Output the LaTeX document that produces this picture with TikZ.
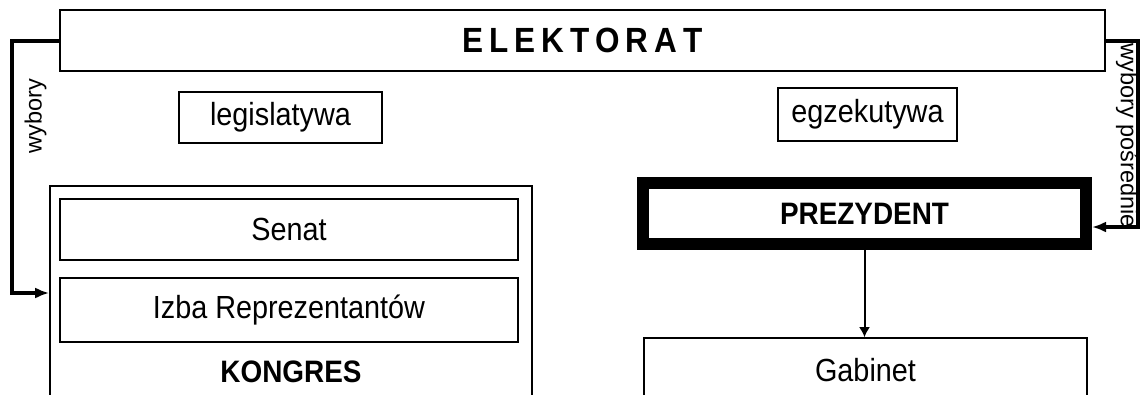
\documentclass[tikz,border=0pt]{standalone}
\usepackage{fontspec}
\setmainfont[FakeStretch=0.9]{Liberation Sans}
\newfontfamily\plainfont{Liberation Sans}
\usetikzlibrary{arrows.meta}
\tikzset{box/.style = {draw, line width=1.6pt, inner sep=0, font=\fontsize{32}{36}\selectfont}}
\tikzset{boldbox/.style = {box, font=\bfseries\fontsize{31}{35}\selectfont}}
\tikzset{vote/.style = {line width=4pt, -{Latex[length=14pt, width=11pt]}}}
\tikzset{votelabel/.style = {inner sep=0, font=\plainfont\fontsize{23.5}{26}\selectfont}}

\begin{document}
\begin{tikzpicture}[x=1pt, y=-1pt]
      \useasboundingbox (0, 0) rectangle (1140, 394);
      \clip (0, 0) rectangle (1140, 394);
      \node [box, minimum width=1045pt, minimum height=61pt] (elektorat) at (582.5, 40.5)
        {\bfseries\fontsize{35}{38}\selectfont\spaceskip=6pt E L E K T O R A T\hspace{12pt}};
      \node [box, minimum width=203pt, minimum height=51pt] (legis) at (280.5, 117.5) {legislatywa};
      \node [box, minimum width=179pt, minimum height=53pt] (egzek) at (867.5, 114.5) {egzekutywa};
      \node [box, minimum width=482pt, minimum height=238pt] (kongres) at (291, 305) {};
      \node [box, minimum width=458pt, minimum height=61pt] (senat) at (289, 229.5) {Senat};
      \node [box, minimum width=458pt, minimum height=64pt] (izba) at (289, 310) {Izba Reprezentantów};
      \node [boldbox, draw=none] (kongresl) at (291, 372) {KONGRES};
      \node [boldbox, line width=12pt, minimum width=443pt, minimum height=61pt] (prez) at (864.5, 213.5) {PREZYDENT};
      \node [box, minimum width=443pt, minimum height=64pt] (gabinet) at (865.5, 370) {Gabinet};
      \coordinate (lewy) at (12, 293);
      \coordinate (prawy) at (1138, 227);
      \draw [vote] (elektorat.west) -| (lewy) -- (kongres.west |- lewy);
      \draw [vote] (elektorat.east) -| (prawy) -- (prez.east |- prawy);
      \draw [line width=2pt, -{Latex[length=10pt, width=11pt]}] (prez.south) -- (prez.south |- gabinet.north);
      \node [votelabel, rotate=90] (wybory) at (35.5, 116) {wybory};
      \node [votelabel, rotate=-90] (posrednie) at (1127, 136) {wybory pośrednie};
    \end{tikzpicture}
\end{document}
